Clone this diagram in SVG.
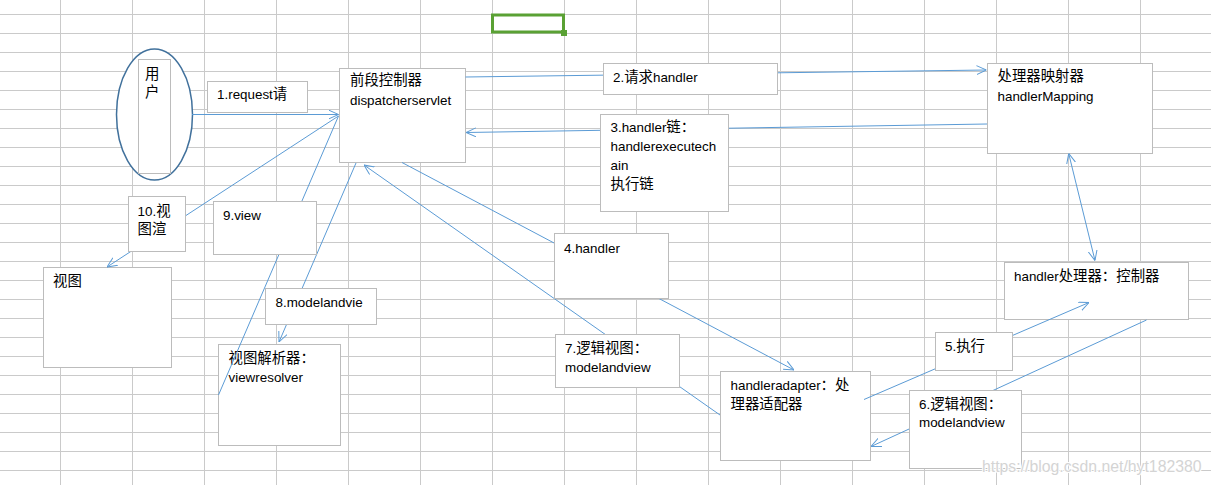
<svg xmlns="http://www.w3.org/2000/svg" width="1211" height="485" viewBox="0 0 1211 485">
<style>
.grid{stroke:#cacaca;stroke-width:1;fill:none}
.box{fill:#fff;stroke:#bcbcbc;stroke-width:1}
.t{font-family:"Liberation Sans","Noto Sans CJK SC",sans-serif;font-size:13.4px;fill:#000}
.c{font-family:"Noto Sans CJK SC","Liberation Sans",sans-serif;font-size:14.4px}
.ln{stroke:#5b9bd5;stroke-width:1;fill:none}
.arr{marker-end:url(#ah)}
</style>
<defs>
<marker id="ah" viewBox="0 0 10 10" refX="10" refY="5" markerWidth="10" markerHeight="10" markerUnits="userSpaceOnUse" orient="auto-start-reverse">
<path d="M0,0.5 L10,5 L0,9.5" fill="none" stroke="#5b9bd5" stroke-width="1"/>
</marker>
</defs>
<rect width="1211" height="485" fill="#fff"/>
<path class="grid" d="M60.5 0V485M132.5 0V485M204.5 0V485M276.5 0V485M348.5 0V485M420.5 0V485M492.5 0V485M564.5 0V485M636.5 0V485M708.5 0V485M780.5 0V485M852.5 0V485M924.5 0V485M996.5 0V485M1068.5 0V485M1140.5 0V485M0 14.5H1211M0 33.5H1211M0 52.5H1211M0 71.5H1211M0 90.5H1211M0 109.5H1211M0 128.5H1211M0 147.5H1211M0 166.5H1211M0 185.5H1211M0 204.5H1211M0 223.5H1211M0 242.5H1211M0 261.5H1211M0 280.5H1211M0 299.5H1211M0 318.5H1211M0 337.5H1211M0 356.5H1211M0 375.5H1211M0 394.5H1211M0 413.5H1211M0 432.5H1211M0 451.5H1211M0 470.5H1211"/>
<g id="selected-cell">
<rect x="492.5" y="15" width="71" height="17" fill="none" stroke="#5aa134" stroke-width="3"/>
<rect x="561" y="30" width="6" height="6" fill="#5aa134"/>
</g>
<g id="main-nodes">
<g id="user">
<ellipse cx="154.5" cy="114.5" rx="38" ry="65.5" fill="#fff" stroke="#41719c" stroke-width="1.5"/>
<rect class="box" x="138.5" y="59.5" width="32" height="114"/>
<text class="t"><tspan class="c" x="145" y="79">用</tspan><tspan class="c" x="145" y="97">户</tspan></text>
</g>
<g id="dispatcherservlet">
<rect class="box" x="339.5" y="68.5" width="126" height="94"/>
<text class="t"><tspan class="c" x="350" y="85">前段控制器</tspan><tspan x="350" y="105">dispatcherservlet</tspan></text>
</g>
<g id="handlerMapping">
<rect class="box" x="987.5" y="63.5" width="165" height="90"/>
<text class="t"><tspan class="c" x="997.5" y="81">处理器映射器</tspan><tspan x="997.5" y="101">handlerMapping</tspan></text>
</g>
<g id="handler">
<rect class="box" x="1004.5" y="262.5" width="184" height="57"/>
<text class="t" x="1014" y="281">handler<tspan class="c">处理器：控制器</tspan></text>
</g>
<g id="handleradapter">
<rect class="box" x="720.5" y="371.5" width="150" height="89"/>
<text class="t"><tspan x="730.5" y="390">handleradapter</tspan><tspan class="c">：处</tspan><tspan class="c" x="730.5" y="409">理器适配器</tspan></text>
</g>
<g id="viewresolver">
<rect class="box" x="218.5" y="344.5" width="122" height="101"/>
<text class="t"><tspan class="c" x="228.5" y="363">视图解析器：</tspan><tspan x="228.5" y="382">viewresolver</tspan></text>
</g>
<g id="view">
<rect class="box" x="43.5" y="267.5" width="128" height="100"/>
<text class="t" x="53" y="286"><tspan class="c">视图</tspan></text>
</g>
</g>
<g id="connectors">
<path class="ln arr" d="M192,114.5 L338.5,114.5"/>
<path class="ln arr" d="M465.5,77 L986.5,70"/>
<path class="ln arr" d="M987,124 L466,132.5"/>
<path class="ln arr" d="M402,162.5 L794,370"/>
<path class="ln arr" d="M864,399.5 L1089,302.5"/>
<path class="ln arr" d="M1146.5,320 L871,446.5"/>
<path class="ln arr" d="M720,415 L364,165"/>
<path class="ln arr" d="M356,163 L279,342"/>
<path class="ln" d="M218.5,395 L338.5,116"/>
<path class="ln arr" d="M338.5,116 L107,267"/>
<path class="ln arr" d="M1068.7,153.5 L1095,260.5" marker-start="url(#ah)"/>
</g>
<g id="label-nodes">
<g id="step1">
<rect class="box" x="207.5" y="81.5" width="100" height="31"/>
<text class="t" x="217" y="99">1.request<tspan class="c">请</tspan></text>
</g>
<g id="step2">
<rect class="box" x="603.5" y="63.5" width="174" height="31"/>
<text class="t" x="613" y="82">2.<tspan class="c">请求</tspan>handler</text>
</g>
<g id="step3">
<rect class="box" x="600.5" y="114.5" width="128" height="97"/>
<text class="t"><tspan x="610.5" y="132">3.handler</tspan><tspan class="c">链：</tspan><tspan x="610.5" y="151">handlerexecutech</tspan><tspan x="610.5" y="170">ain</tspan><tspan class="c" x="610.5" y="189">执行链</tspan></text>
</g>
<g id="step4">
<rect class="box" x="554.5" y="233.5" width="114" height="65"/>
<text class="t" x="564" y="253">4.handler</text>
</g>
<g id="step5">
<rect class="box" x="935.5" y="332.5" width="77" height="38"/>
<text class="t" x="945" y="351">5.<tspan class="c">执行</tspan></text>
</g>
<g id="step6">
<rect class="box" x="909.5" y="390.5" width="112" height="78"/>
<text class="t"><tspan x="919" y="409">6.</tspan><tspan class="c">逻辑视图：</tspan><tspan x="919" y="427">modelandview</tspan></text>
</g>
<g id="step7">
<rect class="box" x="555.5" y="334.5" width="124" height="53"/>
<text class="t"><tspan x="565" y="353">7.</tspan><tspan class="c">逻辑视图：</tspan><tspan x="565" y="372">modelandview</tspan></text>
</g>
<g id="step8">
<rect class="box" x="265.5" y="288.5" width="111" height="36"/>
<text class="t" x="275.5" y="307">8.modelandvie</text>
</g>
<g id="step9">
<rect class="box" x="213.5" y="201.5" width="103" height="53"/>
<text class="t" x="223" y="220">9.view</text>
</g>
<g id="step10">
<rect class="box" x="128.5" y="196.5" width="57" height="55"/>
<text class="t"><tspan x="137.5" y="216">10.</tspan><tspan class="c">视</tspan><tspan class="c" x="137.5" y="234">图渲</tspan></text>
</g>
</g>
<text x="982" y="472" font-family="Liberation Sans, sans-serif" font-size="15.8px" fill="#d4d4d4" stroke="#ffffff" stroke-width="2" paint-order="stroke">https://blog.csdn.net/hyt182380</text>
</svg>
